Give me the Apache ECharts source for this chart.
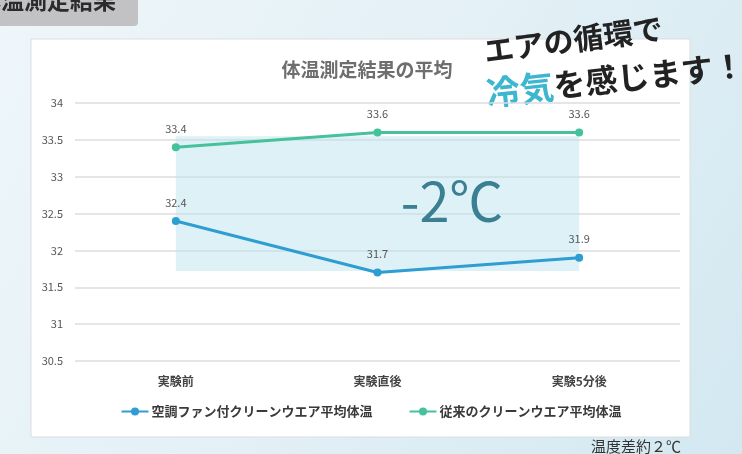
<!DOCTYPE html>
<html><head><meta charset="utf-8">
<script src="https://cdn.jsdelivr.net/npm/echarts@6/dist/echarts.min.js"></script>
<style>html,body{margin:0;padding:0;}#c{width:742px;height:454px;}</style>
</head><body><div id="c"></div>
<script>
const categories = ['実験前', '実験直後', '実験5分後'];
const fanSeriesName = '空調ファン付クリーンウエア平均体温';
const fanValues = [32.4, 31.7, 31.9];
const normalSeriesName = '従来のクリーンウエア平均体温';
const normalValues = [33.4, 33.6, 33.6];
const yMin = 30.5, yMax = 34, yStep = 0.5;
const shadeRange = [31.72, 33.55];

const chart = echarts.init(document.getElementById('c'));
const jp = '"Noto Sans CJK JP", sans-serif';
chart.setOption({
  backgroundColor: new echarts.graphic.LinearGradient(0, 0, 1, 1, [
    {offset: 0, color: '#eef6fa'}, {offset: 0.5, color: '#e3f0f6'}, {offset: 1, color: '#d3e8f1'}
  ]),
  textStyle: {fontFamily: jp},
  title: {
    text: '体温測定結果の平均', left: 362, top: 55, textAlign: 'center',
    textStyle: {fontSize: 19, fontWeight: 'bold', color: '#6e6e6e', fontFamily: jp}
  },
  grid: {left: 75, right: 62, top: 103, bottom: 93},
  legend: {
    bottom: 31, left: 'center', itemGap: 36, itemWidth: 27, itemHeight: 10,
    textStyle: {fontSize: 13, color: '#3a3a3a', fontWeight: 'bold', fontFamily: jp, padding: [0, 0, 0, -2]},
    data: [fanSeriesName, normalSeriesName]
  },
  xAxis: {
    type: 'category', data: categories,
    axisLine: {show: false}, axisTick: {show: false},
    axisLabel: {fontSize: 12, color: '#444', fontWeight: 'bold', margin: 14, fontFamily: jp}
  },
  yAxis: {
    type: 'value', min: yMin, max: yMax, interval: yStep,
    axisLine: {show: false}, axisTick: {show: false},
    axisLabel: {fontSize: 11, color: '#555', margin: 12},
    splitLine: {lineStyle: {color: '#dcdcdc', width: 1.5}}
  },
  graphic: [
    {type: 'rect', z: -10, shape: {x: 31, y: 39, width: 659, height: 398},
     style: {fill: '#fff', stroke: '#dadde0', lineWidth: 1}},
    {type: 'rect', z: 5, shape: {x: -6, y: -6, width: 144, height: 32, r: 4},
     style: {fill: '#c2c2c5'}},
    {type: 'text', z: 6, x: 116, y: -11,
     style: {text: '体温測定結果', align: 'right', verticalAlign: 'top', fontSize: 23, fontWeight: 'bold', fill: '#2b2b2b', fontFamily: jp}},
    {type: 'text', z: 20, x: 452, y: 201,
     style: {text: '-2℃', align: 'center', verticalAlign: 'middle', fontSize: 54, fill: '#3a7f92', fontFamily: jp}},
    {type: 'group', z: 20, x: 486, y: 66, rotation: 0.13, children: [
      {type: 'text', x: 0, y: 0,
       style: {text: 'エアの循環で', verticalAlign: 'bottom', fontSize: 30, fontWeight: 'bold', fill: '#222', fontFamily: jp}}
    ]},
    {type: 'group', z: 20, x: 488, y: 110, rotation: 0.11, children: [
      {type: 'text', x: 0, y: 0,
       style: {text: '{a|冷気}{b|を感じます！}', verticalAlign: 'bottom', fontFamily: jp,
         rich: {
           a: {fontSize: 34, fontWeight: 'bold', fill: '#3db6cf', fontFamily: jp},
           b: {fontSize: 32, fontWeight: 'bold', fill: '#222', fontFamily: jp}
         }}}
    ]},
    {type: 'text', z: 20, x: 681, y: 446,
     style: {text: '温度差約２℃', align: 'right', verticalAlign: 'middle', fontSize: 15, fill: '#333', fontFamily: jp}}
  ],
  series: [
    {
      name: fanSeriesName, type: 'line', data: fanValues,
      color: '#2e9dd1', symbol: 'circle', symbolSize: 8,
      lineStyle: {width: 3},
      label: {show: true, position: 'top', distance: 9, fontSize: 11, color: '#555'},
      markArea: {
        silent: true,
        itemStyle: {color: 'rgba(190,228,238,0.5)'},
        data: [[{xAxis: categories[0], yAxis: shadeRange[1]}, {xAxis: categories[2], yAxis: shadeRange[0]}]]
      },
      z: 3
    },
    {
      name: normalSeriesName, type: 'line', data: normalValues,
      color: '#45c29b', symbol: 'circle', symbolSize: 8,
      lineStyle: {width: 3},
      label: {show: true, position: 'top', distance: 9, fontSize: 11, color: '#555'},
      z: 3
    }
  ]
});
</script></body></html>
